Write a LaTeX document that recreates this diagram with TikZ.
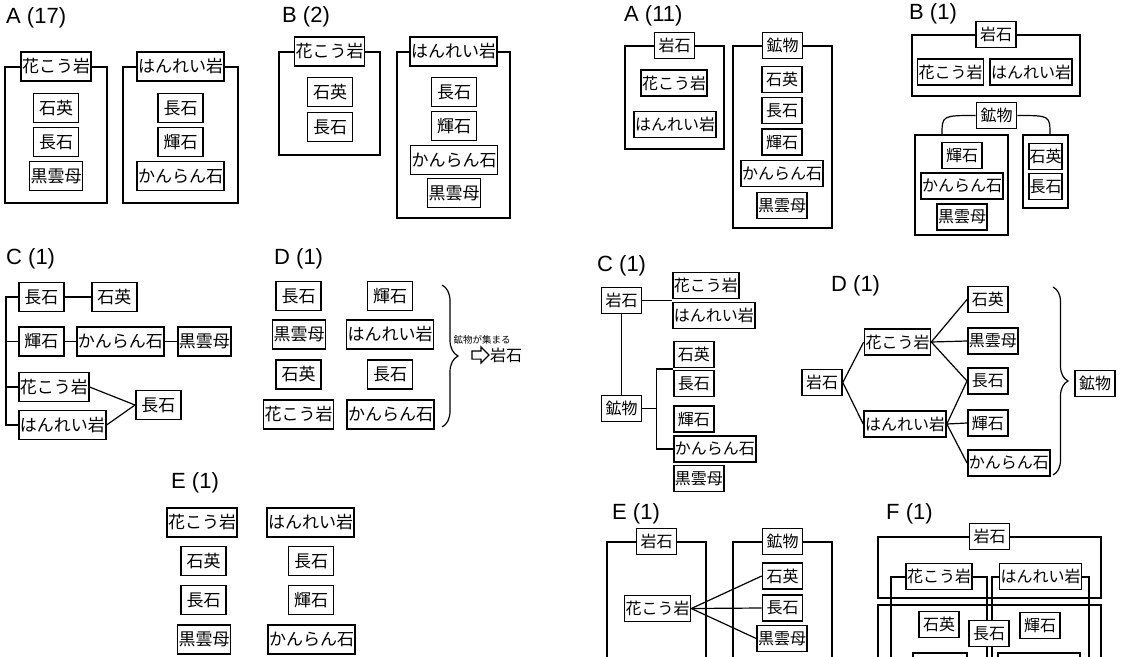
\documentclass[tikz,border=0pt]{standalone}
\usepackage{fontspec}
\setmainfont{Liberation Sans}
\newfontfamily\jpfont{Noto Sans CJK JP}
\usetikzlibrary{calc,shapes.arrows,decorations.pathreplacing}

\begin{document}
\begin{tikzpicture}[
  x=1pt, y=-1pt,
  word/.style={draw, line width=1.6pt, fill=white, font=\jpfont\fontsize{17}{17}\selectfont, inner xsep=1pt, inner ysep=0pt, minimum width=45pt, minimum height=29pt},
  sword/.style={word, font=\jpfont\fontsize{16}{16}\selectfont, minimum width=40pt, minimum height=26pt},
  holder/.style={draw, line width=1.3pt, inner sep=0pt},
  panel/.style={anchor=west, inner sep=0pt, font=\fontsize{22}{22}\selectfont},
  link/.style={line width=1.2pt},
  curly/.style={decorate, decoration={brace, amplitude=15pt}, line width=1.2pt}
]
\useasboundingbox (0,0) rectangle (1123,656);
\clip (0,0) rectangle (1123,656);
\fill[white] (0,0) rectangle (1123,656);

% A (17)
\node[panel] (a17) at (6,18) {A (17)};
\node[holder, minimum width=102pt, minimum height=136pt] (a17-gran) at (56,135) {};
\node[holder, minimum width=115pt, minimum height=136pt] (a17-gabb) at (180.5,135) {};
\node[word] (a17-gran-t) at (a17-gran.north) {花こう岩};
\node[word] (a17-gabb-t) at (a17-gabb.north) {はんれい岩};
\node[word] (a17-quartz) at (56,108) {石英};
\node[word] (a17-feld1) at (56,142) {長石};
\node[word] (a17-bio) at (56,176) {黒雲母};
\node[word] (a17-feld2) at (180.5,108) {長石};
\node[word] (a17-pyro) at (180.5,142) {輝石};
\node[word] (a17-oliv) at (180.5,176) {かんらん石};

% B (2)
\node[panel] (b2) at (282,17) {B (2)};
\node[holder, minimum width=101pt, minimum height=103pt] (b2-gran) at (329.5,103.5) {};
\node[holder, minimum width=113pt, minimum height=166pt] (b2-gabb) at (453.5,135) {};
\node[word] (b2-gran-t) at (b2-gran.north) {花こう岩};
\node[word] (b2-gabb-t) at (b2-gabb.north) {はんれい岩};
\node[word] (b2-quartz) at (330,92) {石英};
\node[word] (b2-feld1) at (330,127) {長石};
\node[word] (b2-feld2) at (454,92) {長石};
\node[word] (b2-pyro) at (454,126) {輝石};
\node[word] (b2-oliv) at (454,160) {かんらん石};
\node[word] (b2-bio) at (454,193) {黒雲母};

% A (11)
\node[panel] (a11) at (624,16) {A (11)};
\node[holder, minimum width=99pt, minimum height=103pt] (a11-rock) at (674.5,97.5) {};
\node[holder, minimum width=99pt, minimum height=182pt] (a11-min) at (782.5,137) {};
\node[sword] (a11-rock-t) at (a11-rock.north) {岩石};
\node[sword] (a11-min-t) at (a11-min.north) {鉱物};
\node[sword] (a11-gran) at (674,83) {花こう岩};
\node[sword] (a11-gabb) at (675,124.5) {はんれい岩};
\node[sword] (a11-quartz) at (782,79.5) {石英};
\node[sword] (a11-feld) at (782,110.5) {長石};
\node[sword] (a11-pyro) at (782,142) {輝石};
\node[sword] (a11-oliv) at (782,173.5) {かんらん石};
\node[sword] (a11-bio) at (782,205.5) {黒雲母};

% B (1)
\node[panel] (b1) at (909,14) {B (1)};
\node[holder, minimum width=168pt, minimum height=61pt] (b1-rock) at (996,65.5) {};
\node[sword] (b1-rock-t) at (b1-rock.north) {岩石};
\node[sword] (b1-gran) at (950.5,72) {花こう岩};
\node[sword] (b1-gabb) at (1031,72) {はんれい岩};
\node[sword] (b1-min) at (996.5,115.5) {鉱物};
\node[holder, minimum width=93pt, minimum height=100pt] (b1-dark) at (961.5,185) {};
\node[holder, minimum width=45pt, minimum height=73pt] (b1-light) at (1045.5,171.5) {};
\coordinate (b1-lend) at (942,135);
\coordinate (b1-rend) at (1050,135);
\draw[link] (b1-min.west) .. controls (b1-min.west -| b1-lend) .. (b1-lend);
\draw[link] (b1-min.east) .. controls (b1-min.east -| b1-rend) .. (b1-rend);
\node[sword] (b1-pyro) at (962,155.5) {輝石};
\node[sword] (b1-oliv) at (962,186) {かんらん石};
\node[sword] (b1-bio) at (962,217) {黒雲母};
\node[sword, minimum width=33pt, inner xsep=0.5pt] (b1-quartz) at (1045.5,156.5) {石英};
\node[sword, minimum width=33pt, inner xsep=0.5pt] (b1-feld) at (1045.5,186.5) {長石};

% C (1) left
\node[panel] (cl) at (6,259) {C (1)};
\node[word, anchor=west] (cl-feld1) at (18,297) {長石};
\node[word, anchor=west] (cl-quartz) at (91,297) {石英};
\node[word, anchor=west] (cl-pyro) at (18,341.5) {輝石};
\node[word, anchor=west] (cl-oliv) at (76,341.5) {かんらん石};
\node[word, anchor=west] (cl-bio) at (177,341.5) {黒雲母};
\node[word, anchor=west] (cl-gran) at (18,387) {花こう岩};
\node[word, anchor=west] (cl-gabb) at (18,425) {はんれい岩};
\node[word, anchor=west] (cl-feld2) at (135,405) {長石};
\draw[link] (cl-feld1) -- (cl-quartz);
\draw[link] (cl-pyro) -- (cl-oliv) -- (cl-bio);
\draw[link] (cl-gran.east) -- (cl-feld2.west);
\draw[link] (cl-gabb.east) -- (cl-feld2.west);
\draw[link] (cl-feld1.west) -- ++(-12,0) |- (cl-gabb.west);
\draw[link] (cl-pyro.west) -- ++(-12,0);
\draw[link] (cl-gran.west) -- ++(-12,0);

% D (1) left
\node[panel] (dl) at (274,259) {D (1)};
\node[word] (dl-feld1) at (298.5,296) {長石};
\node[word] (dl-bio) at (299,334.5) {黒雲母};
\node[word] (dl-quartz) at (298.5,374.5) {石英};
\node[word] (dl-gran) at (298.5,414.5) {花こう岩};
\node[word] (dl-pyro) at (390,296) {輝石};
\node[word] (dl-gabb) at (390,334.5) {はんれい岩};
\node[word] (dl-feld2) at (390,374.5) {長石};
\node[word] (dl-oliv) at (390.5,414.5) {かんらん石};
\draw[curly, decoration={amplitude=16pt}] (442,285) -- (442,427);
\node[font=\jpfont\fontsize{9.5}{9.5}\selectfont, inner sep=0pt] (dl-note) at (482,340) {鉱物が集まる};
\node[draw, single arrow, line width=1.2pt, inner xsep=0pt, inner ysep=3.5pt, single arrow head extend=4pt, minimum height=17pt] (dl-arrow) at (478.5,355) {};
\node[font=\jpfont\fontsize{16}{16}\selectfont, inner sep=0pt, anchor=west] (dl-rock) at (490,355) {岩石};

% E (1) left
\node[panel] (el) at (171,483) {E (1)};
\node[word] (el-gran) at (202,522.5) {花こう岩};
\node[word] (el-quartz) at (203.5,561) {石英};
\node[word] (el-feld1) at (203.5,600) {長石};
\node[word] (el-bio) at (204,639.5) {黒雲母};
\node[word] (el-gabb) at (310.5,522.5) {はんれい岩};
\node[word] (el-feld2) at (311,561) {長石};
\node[word] (el-pyro) at (311,600) {輝石};
\node[word] (el-oliv) at (311.5,639.5) {かんらん石};

% C (1) right
\node[panel] (cr) at (597,266) {C (1)};
\node[sword] (cr-rock) at (621.5,300.5) {岩石};
\node[sword, anchor=west] (cr-gran) at (672,285.5) {花こう岩};
\node[sword, anchor=west] (cr-gabb) at (672,315.5) {はんれい岩};
\node[sword] (cr-min) at (621.5,408.5) {鉱物};
\node[sword, anchor=west] (cr-quartz) at (673,354.5) {石英};
\node[sword, anchor=west] (cr-feld) at (673,383.5) {長石};
\node[sword, anchor=west] (cr-pyro) at (673,419) {輝石};
\node[sword, anchor=west] (cr-oliv) at (673,449) {かんらん石};
\node[sword, anchor=west] (cr-bio) at (673,478.5) {黒雲母};
\draw[link] (cr-rock.east) -- (cr-rock.east -| cr-gran.west);
\draw[link] (cr-rock) -- (cr-min);
\draw[link] (cr-min.east) -- ++(14,0) coordinate (cr-j);
\draw[link] ($(cr-quartz.south west)!0.5!(cr-feld.north west)$) -| (cr-j) |- (cr-oliv.west);

% D (1) right
\node[panel] (dr) at (831,286) {D (1)};
\node[sword] (dr-rock) at (822,382.5) {岩石};
\node[sword] (dr-gran) at (897.5,342) {花こう岩};
\node[sword] (dr-gabb) at (905,424) {はんれい岩};
\node[sword, anchor=west] (dr-quartz) at (967,299.5) {石英};
\node[sword, anchor=west] (dr-bio) at (967,341) {黒雲母};
\node[sword, anchor=west] (dr-feld) at (967,381) {長石};
\node[sword, anchor=west] (dr-pyro) at (967,423) {輝石};
\node[sword, anchor=west] (dr-oliv) at (967,463) {かんらん石};
\draw[link] (dr-rock.east) -- (dr-gran.west);
\draw[link] (dr-rock.east) -- (dr-gabb.west);
\foreach \m in {quartz,bio,feld}
  \draw[link] (dr-gran.east) -- (dr-\m.west);
\foreach \m in {feld,pyro,oliv}
  \draw[link] (dr-gabb.east) -- (dr-\m.west);
\draw[curly] (1053,287) -- (1053,475);
\node[sword] (dr-min) at (1095,383.5) {鉱物};

% E (1) right
\node[panel] (er) at (612,514) {E (1)};
\node[holder, minimum width=99pt, minimum height=158pt] (er-rock) at (656.5,621) {};
\node[holder, minimum width=99pt, minimum height=158pt] (er-min) at (782.5,621) {};
\node[sword] (er-rock-t) at (er-rock.north) {岩石};
\node[sword] (er-min-t) at (er-min.north) {鉱物};
\node[sword] (er-gran) at (657.5,608.5) {花こう岩};
\node[sword] (er-quartz) at (782.5,576) {石英};
\node[sword] (er-feld) at (782.5,608) {長石};
\node[sword] (er-bio) at (782,638.5) {黒雲母};
\foreach \m in {quartz,feld,bio}
  \draw[link] (er-gran.east) -- (er-\m.west);

% F (1)
\node[panel] (fr) at (886,514) {F (1)};
\node[holder, minimum width=223pt, minimum height=61pt] (fr-rock) at (989.5,567.5) {};
\node[holder, minimum width=223pt, minimum height=115pt] (fr-min) at (989.5,662.5) {};
\node[holder, minimum width=96pt, minimum height=123pt] (fr-gran) at (939,638.5) {};
\node[holder, minimum width=97pt, minimum height=123pt] (fr-gabb) at (1040.5,638.5) {};
\node[sword] (fr-rock-t) at (fr-rock.north) {岩石};
\node[sword] (fr-gran-t) at (fr-gran.north) {花こう岩};
\node[sword] (fr-gabb-t) at (fr-gabb.north) {はんれい岩};
\node[sword] (fr-quartz) at (939,624.5) {石英};
\node[sword] (fr-feld) at (989,633.5) {長石};
\node[sword] (fr-pyro) at (1040,625.5) {輝石};
\node[sword, minimum width=54pt] (fr-low1) at (940,666) {};
\node[sword, minimum width=82pt] (fr-low2) at (1039,666) {};
\end{tikzpicture}
\end{document}
